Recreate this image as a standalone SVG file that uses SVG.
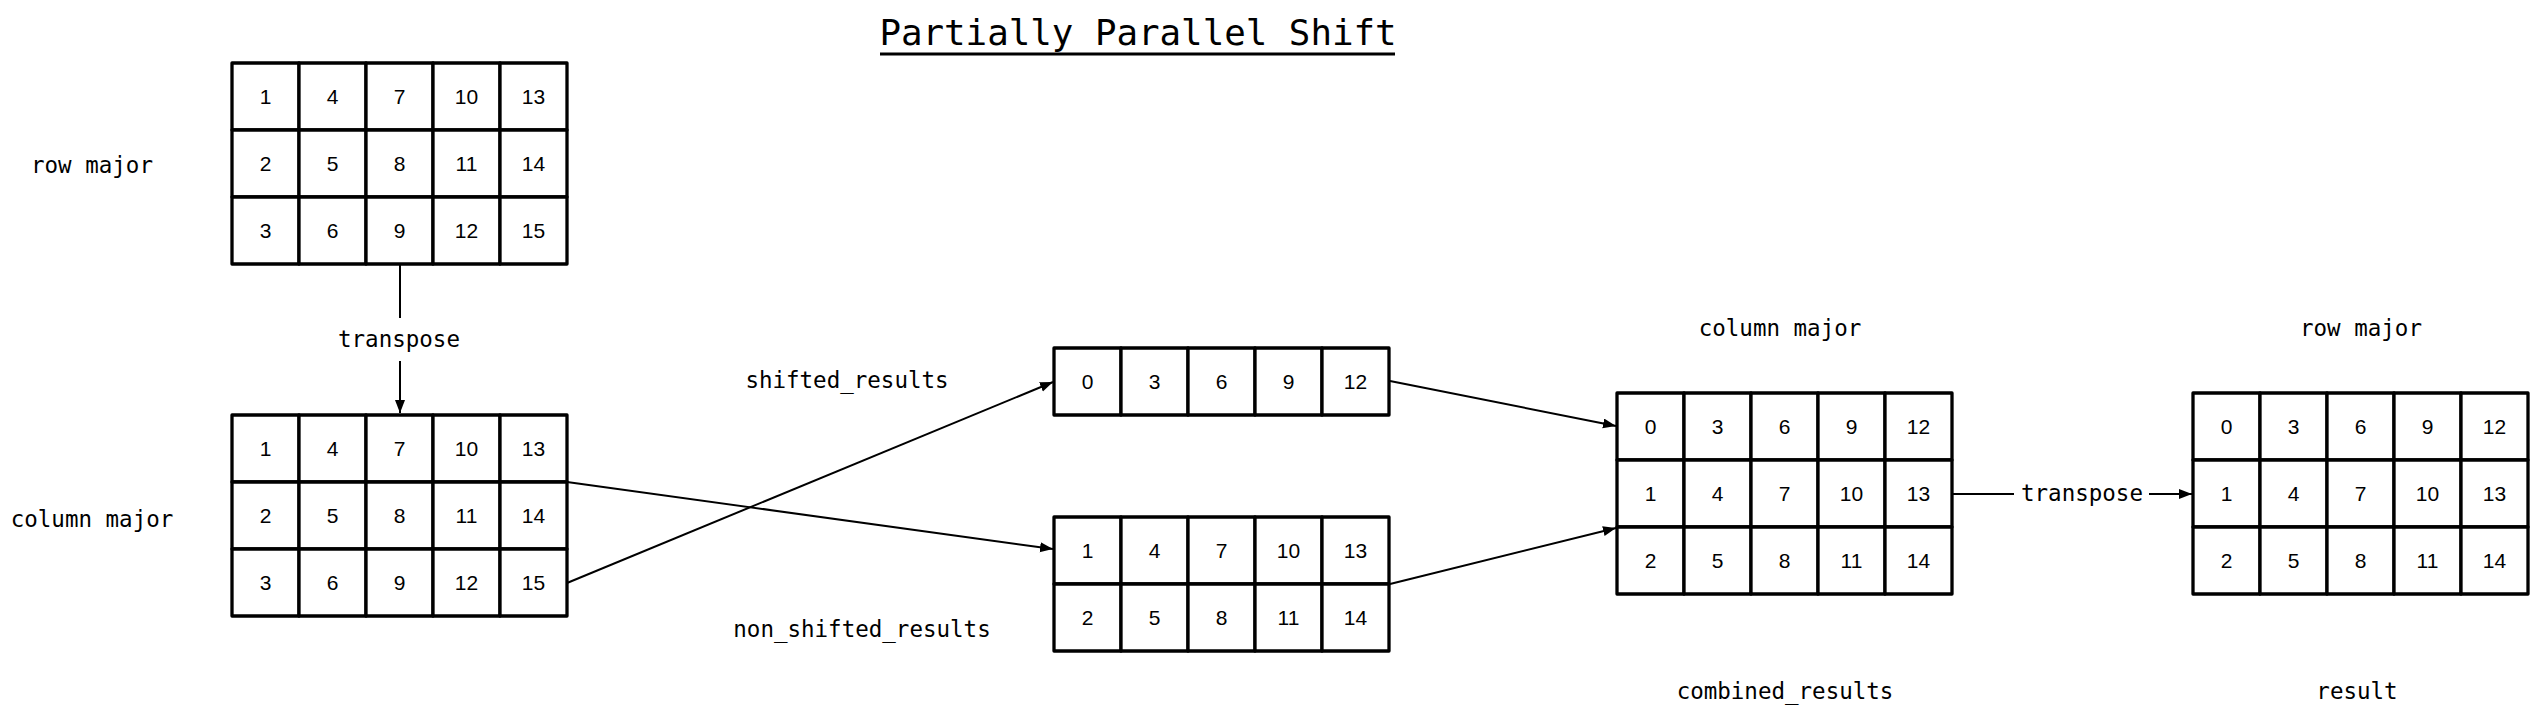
<svg xmlns="http://www.w3.org/2000/svg" width="2531" height="714" viewBox="0 0 2531 714">
<style>
.bg{fill:#fff}
.c{fill:#fff;stroke:#000;stroke-width:3.3;stroke-linejoin:round}
.n{font-family:"Liberation Sans",Arial,sans-serif;font-size:21px;text-anchor:middle;fill:#000}
.l{font-family:"DejaVu Sans Mono","Liberation Mono",monospace;font-size:22.5px;text-anchor:middle;fill:#000}
.t{font-family:"DejaVu Sans Mono","Liberation Mono",monospace;font-size:35.8px;text-anchor:middle;fill:#000}
.e{fill:none;stroke:#000;stroke-width:2}
</style>
<defs>
<marker id="ah" markerUnits="userSpaceOnUse" markerWidth="14" markerHeight="12" refX="13" refY="5" orient="auto">
<path d="M0,0 L13,5 L0,10 z" fill="#000"/>
</marker>
</defs>
<rect class="bg" x="0" y="0" width="2531" height="714"/>

<g id="title">
<text class="t" x="1138" y="45">Partially Parallel Shift</text>
<line x1="880" y1="54" x2="1395" y2="54" stroke="#000" stroke-width="3"/>
</g>

<g id="connectors">
<line class="e" x1="400" y1="264" x2="400" y2="318"/>
<line class="e" x1="400" y1="361" x2="400" y2="413" marker-end="url(#ah)"/>
<line class="e" x1="567" y1="482" x2="1053" y2="549" marker-end="url(#ah)"/>
<line class="e" x1="567" y1="583" x2="1053" y2="382" marker-end="url(#ah)"/>
<line class="e" x1="1390" y1="381" x2="1616" y2="426" marker-end="url(#ah)"/>
<line class="e" x1="1390" y1="584" x2="1616" y2="528" marker-end="url(#ah)"/>
<line class="e" x1="1953" y1="494" x2="2014" y2="494"/>
<line class="e" x1="2149" y1="494" x2="2192" y2="494" marker-end="url(#ah)"/>
</g>

<g id="labels">
<text class="l" x="92" y="173">row major</text>
<text class="l" x="92" y="527">column major</text>
<text class="l" x="399" y="347">transpose</text>
<text class="l" x="847" y="388">shifted_results</text>
<text class="l" x="862" y="637">non_shifted_results</text>
<text class="l" x="1780" y="336">column major</text>
<text class="l" x="2361" y="336">row major</text>
<text class="l" x="1785" y="699">combined_results</text>
<text class="l" x="2357" y="699">result</text>
<text class="l" x="2082" y="501">transpose</text>
</g>

<g id="grid-row-major">
<rect class="c" x="232" y="63" width="67" height="67"/><rect class="c" x="299" y="63" width="67" height="67"/><rect class="c" x="366" y="63" width="67" height="67"/><rect class="c" x="433" y="63" width="67" height="67"/><rect class="c" x="500" y="63" width="67" height="67"/>
<rect class="c" x="232" y="130" width="67" height="67"/><rect class="c" x="299" y="130" width="67" height="67"/><rect class="c" x="366" y="130" width="67" height="67"/><rect class="c" x="433" y="130" width="67" height="67"/><rect class="c" x="500" y="130" width="67" height="67"/>
<rect class="c" x="232" y="197" width="67" height="67"/><rect class="c" x="299" y="197" width="67" height="67"/><rect class="c" x="366" y="197" width="67" height="67"/><rect class="c" x="433" y="197" width="67" height="67"/><rect class="c" x="500" y="197" width="67" height="67"/>
<text class="n" x="265.5" y="104">1</text><text class="n" x="332.5" y="104">4</text><text class="n" x="399.5" y="104">7</text><text class="n" x="466.5" y="104">10</text><text class="n" x="533.5" y="104">13</text>
<text class="n" x="265.5" y="171">2</text><text class="n" x="332.5" y="171">5</text><text class="n" x="399.5" y="171">8</text><text class="n" x="466.5" y="171">11</text><text class="n" x="533.5" y="171">14</text>
<text class="n" x="265.5" y="238">3</text><text class="n" x="332.5" y="238">6</text><text class="n" x="399.5" y="238">9</text><text class="n" x="466.5" y="238">12</text><text class="n" x="533.5" y="238">15</text>
</g>

<g id="grid-column-major">
<rect class="c" x="232" y="415" width="67" height="67"/><rect class="c" x="299" y="415" width="67" height="67"/><rect class="c" x="366" y="415" width="67" height="67"/><rect class="c" x="433" y="415" width="67" height="67"/><rect class="c" x="500" y="415" width="67" height="67"/>
<rect class="c" x="232" y="482" width="67" height="67"/><rect class="c" x="299" y="482" width="67" height="67"/><rect class="c" x="366" y="482" width="67" height="67"/><rect class="c" x="433" y="482" width="67" height="67"/><rect class="c" x="500" y="482" width="67" height="67"/>
<rect class="c" x="232" y="549" width="67" height="67"/><rect class="c" x="299" y="549" width="67" height="67"/><rect class="c" x="366" y="549" width="67" height="67"/><rect class="c" x="433" y="549" width="67" height="67"/><rect class="c" x="500" y="549" width="67" height="67"/>
<text class="n" x="265.5" y="456">1</text><text class="n" x="332.5" y="456">4</text><text class="n" x="399.5" y="456">7</text><text class="n" x="466.5" y="456">10</text><text class="n" x="533.5" y="456">13</text>
<text class="n" x="265.5" y="523">2</text><text class="n" x="332.5" y="523">5</text><text class="n" x="399.5" y="523">8</text><text class="n" x="466.5" y="523">11</text><text class="n" x="533.5" y="523">14</text>
<text class="n" x="265.5" y="590">3</text><text class="n" x="332.5" y="590">6</text><text class="n" x="399.5" y="590">9</text><text class="n" x="466.5" y="590">12</text><text class="n" x="533.5" y="590">15</text>
</g>

<g id="grid-shifted">
<rect class="c" x="1054" y="348" width="67" height="67"/><rect class="c" x="1121" y="348" width="67" height="67"/><rect class="c" x="1188" y="348" width="67" height="67"/><rect class="c" x="1255" y="348" width="67" height="67"/><rect class="c" x="1322" y="348" width="67" height="67"/>
<text class="n" x="1087.5" y="389">0</text><text class="n" x="1154.5" y="389">3</text><text class="n" x="1221.5" y="389">6</text><text class="n" x="1288.5" y="389">9</text><text class="n" x="1355.5" y="389">12</text>
</g>

<g id="grid-non-shifted">
<rect class="c" x="1054" y="517" width="67" height="67"/><rect class="c" x="1121" y="517" width="67" height="67"/><rect class="c" x="1188" y="517" width="67" height="67"/><rect class="c" x="1255" y="517" width="67" height="67"/><rect class="c" x="1322" y="517" width="67" height="67"/>
<rect class="c" x="1054" y="584" width="67" height="67"/><rect class="c" x="1121" y="584" width="67" height="67"/><rect class="c" x="1188" y="584" width="67" height="67"/><rect class="c" x="1255" y="584" width="67" height="67"/><rect class="c" x="1322" y="584" width="67" height="67"/>
<text class="n" x="1087.5" y="558">1</text><text class="n" x="1154.5" y="558">4</text><text class="n" x="1221.5" y="558">7</text><text class="n" x="1288.5" y="558">10</text><text class="n" x="1355.5" y="558">13</text>
<text class="n" x="1087.5" y="625">2</text><text class="n" x="1154.5" y="625">5</text><text class="n" x="1221.5" y="625">8</text><text class="n" x="1288.5" y="625">11</text><text class="n" x="1355.5" y="625">14</text>
</g>

<g id="grid-combined">
<rect class="c" x="1617" y="393" width="67" height="67"/><rect class="c" x="1684" y="393" width="67" height="67"/><rect class="c" x="1751" y="393" width="67" height="67"/><rect class="c" x="1818" y="393" width="67" height="67"/><rect class="c" x="1885" y="393" width="67" height="67"/>
<rect class="c" x="1617" y="460" width="67" height="67"/><rect class="c" x="1684" y="460" width="67" height="67"/><rect class="c" x="1751" y="460" width="67" height="67"/><rect class="c" x="1818" y="460" width="67" height="67"/><rect class="c" x="1885" y="460" width="67" height="67"/>
<rect class="c" x="1617" y="527" width="67" height="67"/><rect class="c" x="1684" y="527" width="67" height="67"/><rect class="c" x="1751" y="527" width="67" height="67"/><rect class="c" x="1818" y="527" width="67" height="67"/><rect class="c" x="1885" y="527" width="67" height="67"/>
<text class="n" x="1650.5" y="434">0</text><text class="n" x="1717.5" y="434">3</text><text class="n" x="1784.5" y="434">6</text><text class="n" x="1851.5" y="434">9</text><text class="n" x="1918.5" y="434">12</text>
<text class="n" x="1650.5" y="501">1</text><text class="n" x="1717.5" y="501">4</text><text class="n" x="1784.5" y="501">7</text><text class="n" x="1851.5" y="501">10</text><text class="n" x="1918.5" y="501">13</text>
<text class="n" x="1650.5" y="568">2</text><text class="n" x="1717.5" y="568">5</text><text class="n" x="1784.5" y="568">8</text><text class="n" x="1851.5" y="568">11</text><text class="n" x="1918.5" y="568">14</text>
</g>

<g id="grid-result">
<rect class="c" x="2193" y="393" width="67" height="67"/><rect class="c" x="2260" y="393" width="67" height="67"/><rect class="c" x="2327" y="393" width="67" height="67"/><rect class="c" x="2394" y="393" width="67" height="67"/><rect class="c" x="2461" y="393" width="67" height="67"/>
<rect class="c" x="2193" y="460" width="67" height="67"/><rect class="c" x="2260" y="460" width="67" height="67"/><rect class="c" x="2327" y="460" width="67" height="67"/><rect class="c" x="2394" y="460" width="67" height="67"/><rect class="c" x="2461" y="460" width="67" height="67"/>
<rect class="c" x="2193" y="527" width="67" height="67"/><rect class="c" x="2260" y="527" width="67" height="67"/><rect class="c" x="2327" y="527" width="67" height="67"/><rect class="c" x="2394" y="527" width="67" height="67"/><rect class="c" x="2461" y="527" width="67" height="67"/>
<text class="n" x="2226.5" y="434">0</text><text class="n" x="2293.5" y="434">3</text><text class="n" x="2360.5" y="434">6</text><text class="n" x="2427.5" y="434">9</text><text class="n" x="2494.5" y="434">12</text>
<text class="n" x="2226.5" y="501">1</text><text class="n" x="2293.5" y="501">4</text><text class="n" x="2360.5" y="501">7</text><text class="n" x="2427.5" y="501">10</text><text class="n" x="2494.5" y="501">13</text>
<text class="n" x="2226.5" y="568">2</text><text class="n" x="2293.5" y="568">5</text><text class="n" x="2360.5" y="568">8</text><text class="n" x="2427.5" y="568">11</text><text class="n" x="2494.5" y="568">14</text>
</g>
</svg>
